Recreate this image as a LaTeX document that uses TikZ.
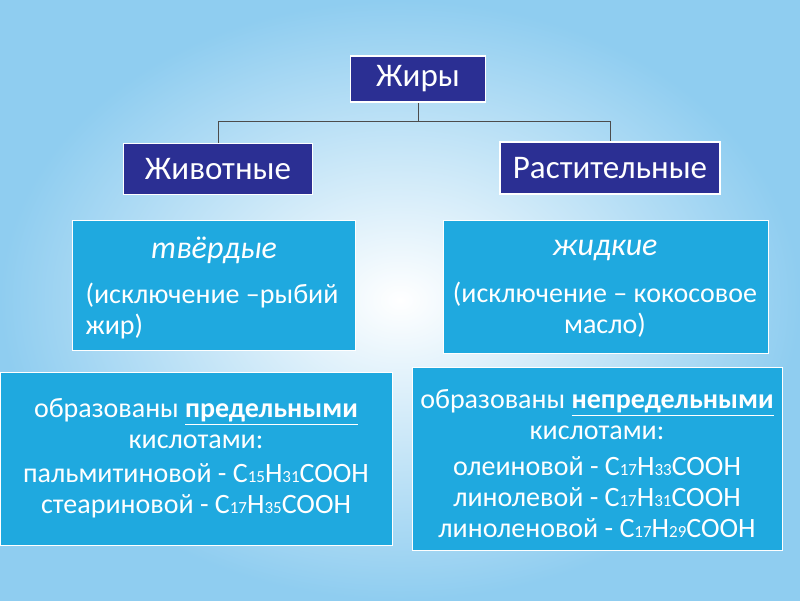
\documentclass[tikz,border=0pt]{standalone}
\usepackage{fontspec}
\setmainfont{Carlito}
\definecolor{navy}{HTML}{2B2F93}
\definecolor{cy}{HTML}{1FA9DF}
\definecolor{bgc}{HTML}{8FCDF0}
\newcommand{\sbs}[1]{{\fontsize{17}{18}\selectfont #1}}
\begin{document}
\begin{tikzpicture}[x=1pt,y=-1pt,
  hbox/.style={draw=white,line width=1.5pt,fill=navy,text=white,font=\fontsize{33}{36}\selectfont},
  cbox/.style={draw=white,line width=1pt,fill=cy},
  txt/.style={text=white,font=\fontsize{28}{31}\selectfont,align=center},
  conn/.style={draw=black!70,line width=1pt}]
\useasboundingbox (0,0) rectangle (800,600);
\shade[inner color=white,outer color=bgc] (0,0) rectangle (800,600);
\node[hbox,minimum width=135pt,minimum height=46pt] (root) at (418,79) {Жиры};
\node[hbox,minimum width=189pt,minimum height=51pt] (an) at (218,169) {Животные};
\node[hbox,minimum width=220pt,minimum height=52pt] (pl) at (610,168) {Растительные};
\coordinate (j) at (418,121);
\draw[conn] (root.south) -- (j);
\draw[conn] (an.north) -- (an.north |- j) -- (pl.north |- j) -- (pl.north);
\node[cbox,minimum width=283pt,minimum height=130pt] (c1) at (213.5,285) {};
\node[txt,font=\fontsize{32}{34}\selectfont\itshape] (t1) at (214,250) {твёрдые};
\node[txt,align=left,anchor=west] (t1b) at (82,311) {(исключение –рыбий\\жир)};
\node[cbox,minimum width=325pt,minimum height=133pt] (c2) at (605.5,286.5) {};
\node[txt,font=\fontsize{32}{34}\selectfont\itshape] (t2) at (605,250) {жидкие};
\node[txt] (t2b) at (605,310) {(исключение – кокосовое\\масло)};
\node[cbox,minimum width=392pt,minimum height=173pt] (b1) at (196,458.5) {};
\node[txt] (b1a) at (196,424) {образованы \textbf{\underline{предельными}}\\кислотами:};
\node[txt] (b1b) at (196,491) {пальмитиновой - C\sbs{15}H\sbs{31}COOH\\стеариновой - C\sbs{17}H\sbs{35}COOH};
\node[cbox,minimum width=370pt,minimum height=183pt] (b2) at (597,458.5) {};
\node[txt] (b2a) at (597,415) {образованы \textbf{\underline{непредельными}}\\кислотами:};
\node[txt] (b2b) at (597,497) {олеиновой - C\sbs{17}H\sbs{33}COOH\\линолевой - C\sbs{17}H\sbs{31}COOH\\линоленовой - C\sbs{17}H\sbs{29}COOH};
\end{tikzpicture}
\end{document}
